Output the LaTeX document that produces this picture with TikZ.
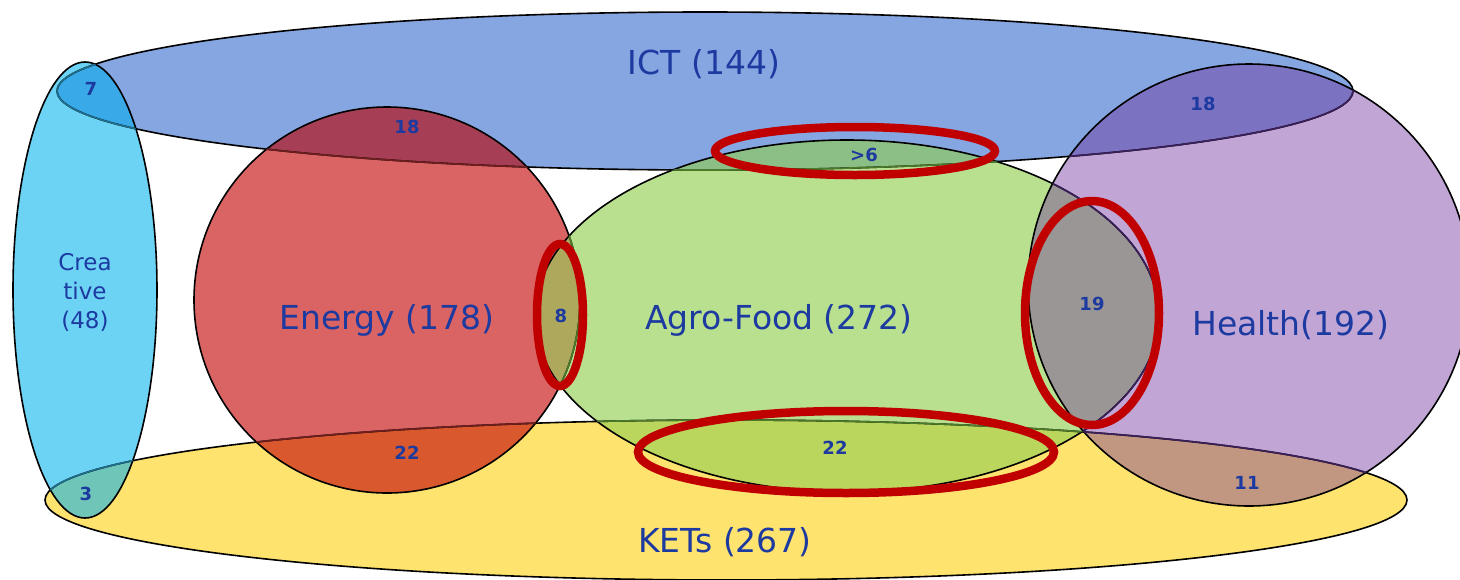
\documentclass[tikz,border=0pt]{standalone}
\usepackage{fontspec}
\setmainfont{DejaVu Sans}
\usetikzlibrary{positioning}

\definecolor{ictfill}{HTML}{86A6E2}
\definecolor{creafill}{HTML}{6CD3F5}
\definecolor{energyfill}{HTML}{DA6464}
\definecolor{agrofill}{HTML}{B9E08F}
\definecolor{healthfill}{HTML}{C1A6D5}
\definecolor{ketsfill}{HTML}{FFE36F}
% overlaps
\definecolor{ictcrea}{HTML}{39A9E8}
\definecolor{ictenergy}{HTML}{A63F55}
\definecolor{ictagro}{HTML}{8CBF85}
\definecolor{icthealth}{HTML}{7C72C2}
\definecolor{ketscrea}{HTML}{6FC6B8}
\definecolor{ketsenergy}{HTML}{D9582D}
\definecolor{ketsagro}{HTML}{BAD65C}
\definecolor{ketshealth}{HTML}{C29782}
\definecolor{energyagro}{HTML}{ADA85C}
\definecolor{agrohealth}{HTML}{9A9696}
% edges seen through a set
\definecolor{creaedge}{HTML}{1E6E8C}
\definecolor{energyedge}{HTML}{6E1E1E}
\definecolor{agroedge}{HTML}{4A7A2A}
\definecolor{healthedge}{HTML}{3A1F5A}
\definecolor{txtblue}{HTML}{1C3AA0}
\definecolor{ringred}{HTML}{C00000}

\tikzset{
  setline/.style={draw=black, line width=1.6pt},
  ring/.style={draw=ringred, line width=8.5pt},
  setname/.style={text=txtblue, inner sep=0pt, font=\fontsize{33}{40}\selectfont},
  count/.style={text=txtblue, inner sep=0pt, font=\bfseries\fontsize{18}{22}\selectfont},
}

% the six sets, in pixels
\newcommand{\ictset}{(705,91) ellipse [x radius=648pt, y radius=79pt]}
\newcommand{\ketsset}{(726,500) ellipse [x radius=681pt, y radius=80pt]}
\newcommand{\energyset}{(387,300) circle [radius=193pt]}
\newcommand{\agroset}{(847,316) ellipse [x radius=312pt, y radius=176pt]}
\newcommand{\healthset}{(1249,285) circle [radius=221pt]}
\newcommand{\creaset}{(85,290) ellipse [x radius=72pt, y radius=228pt]}

\begin{document}
\begin{tikzpicture}[x=1pt, y=-1pt]
\useasboundingbox (0,0) rectangle (1460,579);

\fill[ictfill] \ictset;
\fill[ketsfill] \ketsset;
\fill[energyfill] \energyset;
\fill[agrofill] \agroset;
\fill[healthfill] \healthset;
\fill[creafill] \creaset;

\foreach \a/\b/\c in {ict/crea/ictcrea, ict/energy/ictenergy, ict/agro/ictagro,
  ict/health/icthealth, kets/crea/ketscrea, kets/energy/ketsenergy,
  kets/agro/ketsagro, kets/health/ketshealth, energy/agro/energyagro,
  agro/health/agrohealth}{
  \begin{scope}
    \clip \csname\a set\endcsname;
    \fill[\c] \csname\b set\endcsname;
  \end{scope}
}

\foreach \s in {ict, kets, energy, agro, health, crea}
  \draw[setline] \csname\s set\endcsname;

% lower edges shown through the upper set
\foreach \a/\b/\c in {ict/crea/creaedge, ict/energy/energyedge, ict/agro/agroedge,
  ict/health/healthedge, kets/crea/creaedge, kets/energy/energyedge,
  kets/agro/agroedge, kets/health/healthedge, energy/agro/agroedge,
  agro/health/healthedge}{
  \begin{scope}
    \clip \csname\b set\endcsname;
    \draw[\c, line width=1.6pt] \csname\a set\endcsname;
  \end{scope}
}

\draw[ring] (855,151) ellipse [x radius=140pt, y radius=24pt];
\draw[ring] (560,315) ellipse [x radius=23pt, y radius=71pt];
\draw[ring] (1092,313) ellipse [x radius=67pt, y radius=112pt];
\draw[ring] (846,452) ellipse [x radius=208pt, y radius=41pt];

\node[setname] (ict) at (704,64) {ICT (144)};
\node[setname] (energy) at (387,320) {Energy (178)};
\node[setname] (agro) at (779,320) {Agro-Food (272)};
\node[setname] (health) at (1291,325) {Health(192)};
\node[setname] (kets) at (725,542) {KETs (267)};
\node[text=txtblue, align=center, inner sep=0pt, font=\fontsize{23}{29}\selectfont]
  (crea) at (85,292) {Crea\\tive\\(48)};

\node[count] (ictcrean) at (91,89) {7};
\node[count] (ictenergyn) at (407,127) {18};
\node[count] (ictagron) at (864,155) {>6};
\node[count] (icthealthn) at (1203,104) {18};
\node[count] (energyagron) at (561,316) {8};
\node[count] (agrohealthn) at (1092,304) {19};
\node[count] (ketsenergyn) at (407,453) {22};
\node[count] (ketsagron) at (835,448) {22};
\node[count] (ketscrean) at (86,494) {3};
\node[count] (ketshealthn) at (1247,483) {11};
\end{tikzpicture}
\end{document}
